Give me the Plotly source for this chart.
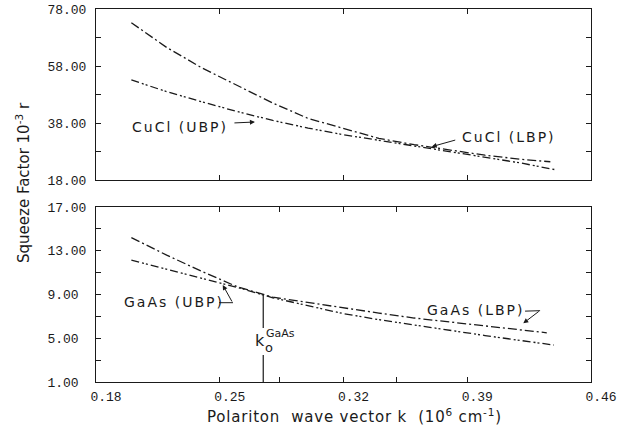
import plotly.graph_objects as go

# ---------------- data ----------------
# CuCl panel (top)
cucl_dd_x = [0.20, 0.22, 0.24, 0.26, 0.28, 0.30, 0.32, 0.34, 0.36, 0.38, 0.40, 0.42, 0.437]
cucl_dd_y = [73.2, 64.5, 57.3, 51.2, 45.0, 39.6, 36.0, 32.6, 30.4, 28.5, 26.7, 25.3, 24.4]
cucl_ddd_x = [0.20, 0.22, 0.24, 0.26, 0.28, 0.30, 0.32, 0.34, 0.36, 0.38, 0.40, 0.42, 0.44]
cucl_ddd_y = [53.1, 49.0, 45.4, 42.0, 38.9, 36.2, 33.9, 31.9, 30.0, 28.1, 26.1, 24.0, 21.6]

# GaAs panel (bottom)
gaas_dd_x = [0.20, 0.22, 0.24, 0.26, 0.28, 0.30, 0.32, 0.34, 0.36, 0.38, 0.40, 0.42, 0.435]
gaas_dd_y = [14.2, 12.6, 11.1, 9.7, 8.75, 8.25, 7.75, 7.3, 6.85, 6.5, 6.15, 5.8, 5.5]
gaas_ddd_x = [0.20, 0.22, 0.24, 0.26, 0.28, 0.30, 0.32, 0.34, 0.36, 0.38, 0.40, 0.42, 0.439]
gaas_ddd_y = [12.15, 11.3, 10.5, 9.65, 8.7, 7.95, 7.25, 6.7, 6.2, 5.7, 5.25, 4.8, 4.38]

k0_gaas = 0.2746
k0_top = 8.95
k0_gap = [3.47, 5.94]

x_range = [0.18, 0.46]
x_ticks = [0.18, 0.25, 0.32, 0.39, 0.46]
x_ticktext = ["0.18", "0.25", "0.32", "0.39", "0.46"]
x_minor = [0.284, 0.350]
top_range = [18, 78]
top_ticks = [18, 38, 58, 78]
top_ticktext = ["18.00", "38.00", "58.00", "78.00"]
top_minor = [28, 48, 68]
bot_range = [1, 17]
bot_ticks = [1, 5, 9, 13, 17]
bot_ticktext = ["1.00", "5.00", "9.00", "13.00", "17.00"]
bot_minor = [3, 7, 11, 15]

# ---------------- styles ----------------
W, H = 629, 432
INK = "#1a1a1a"
DASHDOT = "9px,3px,2px,3px"
DASHDOTDOT = "8px,3px,2px,2px,2px,3px"
MONO = "Liberation Mono"
SANS = "DejaVu Sans"

def pad(labels):
    n = max(len(s) for s in labels)
    return [s + "\u00a0" * (n - len(s)) for s in labels]

fig = go.Figure()
line_w = 1.3
fig.add_trace(go.Scatter(x=cucl_dd_x, y=cucl_dd_y, mode="lines", xaxis="x", yaxis="y",
                         line=dict(color=INK, width=line_w, dash=DASHDOT), showlegend=False))
fig.add_trace(go.Scatter(x=cucl_ddd_x, y=cucl_ddd_y, mode="lines", xaxis="x", yaxis="y",
                         line=dict(color=INK, width=line_w, dash=DASHDOTDOT), showlegend=False))
fig.add_trace(go.Scatter(x=gaas_dd_x, y=gaas_dd_y, mode="lines", xaxis="x2", yaxis="y2",
                         line=dict(color=INK, width=line_w, dash=DASHDOT), showlegend=False))
fig.add_trace(go.Scatter(x=gaas_ddd_x, y=gaas_ddd_y, mode="lines", xaxis="x2", yaxis="y2",
                         line=dict(color=INK, width=line_w, dash=DASHDOTDOT), showlegend=False))
fig.add_trace(go.Scatter(x=[k0_gaas, k0_gaas, None, k0_gaas, k0_gaas],
                         y=[bot_range[0], k0_gap[0], None, k0_gap[1], k0_top],
                         mode="lines", xaxis="x2", yaxis="y2",
                         line=dict(color=INK, width=1.2), showlegend=False))

xdom = [96 / W, 591 / W]
common_axis = dict(showgrid=False, zeroline=False, showline=True, linecolor=INK, linewidth=1,
                   mirror="ticks", ticks="inside", ticklen=5, tickcolor=INK, tickwidth=1,
                   automargin=False)

fig.update_layout(
    width=W, height=H, margin=dict(l=0, r=0, t=0, b=0, autoexpand=False),
    paper_bgcolor="white", plot_bgcolor="white", showlegend=False,
    xaxis=dict(domain=xdom, range=x_range, anchor="y", tickmode="array", tickvals=x_ticks[1:-1],
               showticklabels=False, **common_axis),
    yaxis=dict(domain=[1 - 180 / H, 1 - 9 / H], range=top_range, anchor="x", tickmode="array",
               tickvals=top_ticks, ticktext=pad(top_ticktext),
               tickfont=dict(family=MONO, size=13, color=INK), ticklabelstandoff=6,
               minor=dict(tickmode="array", tickvals=top_minor, ticks="inside", ticklen=5,
                          tickcolor=INK, showgrid=False),
               **common_axis),
    xaxis2=dict(domain=xdom, range=x_range, anchor="y2", tickmode="array", tickvals=x_ticks,
                ticktext=x_ticktext, tickfont=dict(family=MONO, size=13, color=INK),
                ticklabelshift=10, ticklabelstandoff=2,
                minor=dict(tickmode="array", tickvals=x_minor, ticks="inside", ticklen=5,
                           tickcolor=INK, showgrid=False),
                **common_axis),
    yaxis2=dict(domain=[1 - 382 / H, 1 - 207 / H], range=bot_range, anchor="x2", tickmode="array",
                tickvals=bot_ticks, ticktext=pad(bot_ticktext),
                tickfont=dict(family=MONO, size=13, color=INK), ticklabelstandoff=6,
                minor=dict(tickmode="array", tickvals=bot_minor, ticks="inside", ticklen=5,
                           tickcolor=INK, showgrid=False),
                **common_axis),
)

LS = '<span style="letter-spacing:2px">{}</span>'
lab_font = dict(family=SANS, size=14, color=INK)
ann = []
# axis titles
ann.append(dict(xref="paper", yref="paper", x=354 / W, y=1 - 416 / H, xanchor="center",
                yanchor="middle", showarrow=False,
                text='<span style="letter-spacing:0.8px">Polariton  wave vector k  (10<sup>6</sup> cm<sup>-1</sup>)</span>',
                font=dict(family=SANS, size=15, color=INK)))
ann.append(dict(xref="paper", yref="paper", x=23 / W, y=1 - 183 / H, xanchor="center",
                yanchor="middle", showarrow=False, textangle=-90,
                text="Squeeze Factor 10<sup>-3</sup> r", font=dict(family=SANS, size=15, color=INK)))
# CuCl labels
ann.append(dict(xref="x", yref="y", x=0.1992, y=36.6, xanchor="left", showarrow=False,
                text=LS.format("CuCl (UBP)"), font=lab_font))
ann.append(dict(xref="x", yref="y", x=0.2699, y=38.35, ax=-22, ay=1, text="", showarrow=True,
                arrowhead=2, arrowsize=1, arrowwidth=1, arrowcolor=INK))
ann.append(dict(xref="x", yref="y", x=0.3859, y=33.2, xanchor="left", showarrow=False,
                text=LS.format("CuCl (LBP)"), font=lab_font))
ann.append(dict(xref="x", yref="y", x=0.3699, y=29.7, ax=25, ay=-7, text="", showarrow=True,
                arrowhead=2, arrowsize=1, arrowwidth=1, arrowcolor=INK))
# GaAs labels
ann.append(dict(xref="x2", yref="y2", x=0.1945, y=8.27, xanchor="left", showarrow=False,
                text=LS.format("GaAs (UBP)"), font=lab_font))
ann.append(dict(xref="x2", yref="y2", x=0.2517, y=9.87, ax=10, ay=18, text="", showarrow=True,
                arrowhead=2, arrowsize=1, arrowwidth=1, arrowcolor=INK))
ann.append(dict(xref="x2", yref="y2", x=0.3661, y=7.58, xanchor="left", showarrow=False,
                text=LS.format("GaAs (LBP)"), font=lab_font))
ann.append(dict(xref="x2", yref="y2", x=0.4217, y=6.37, ax=17, ay=-13, text="", showarrow=True,
                arrowhead=2, arrowsize=1, arrowwidth=1, arrowcolor=INK))
# k0 label
ann.append(dict(xref="x2", yref="y2", x=0.2728, y=4.75, showarrow=False, text="k",
                font=dict(family=SANS, size=16, color=INK)))
ann.append(dict(xref="x2", yref="y2", x=0.2778, y=4.15, showarrow=False, text="o",
                font=dict(family=SANS, size=13, color=INK)))
ann.append(dict(xref="x2", yref="y2", x=0.2846, y=5.45, showarrow=False, text="GaAs",
                font=dict(family=SANS, size=11, color=INK)))
fig.update_layout(annotations=ann)

# small connector strokes of the bent label arrows
fig.add_shape(type="line", xref="x2", yref="y2", x0=0.2496, x1=0.2575, y0=8.25, y1=8.25,
              line=dict(color=INK, width=1))
fig.add_shape(type="line", xref="x2", yref="y2", x0=0.4227, x1=0.4312, y0=7.48, y1=7.52,
              line=dict(color=INK, width=1))

fig.write_html("out.html")
